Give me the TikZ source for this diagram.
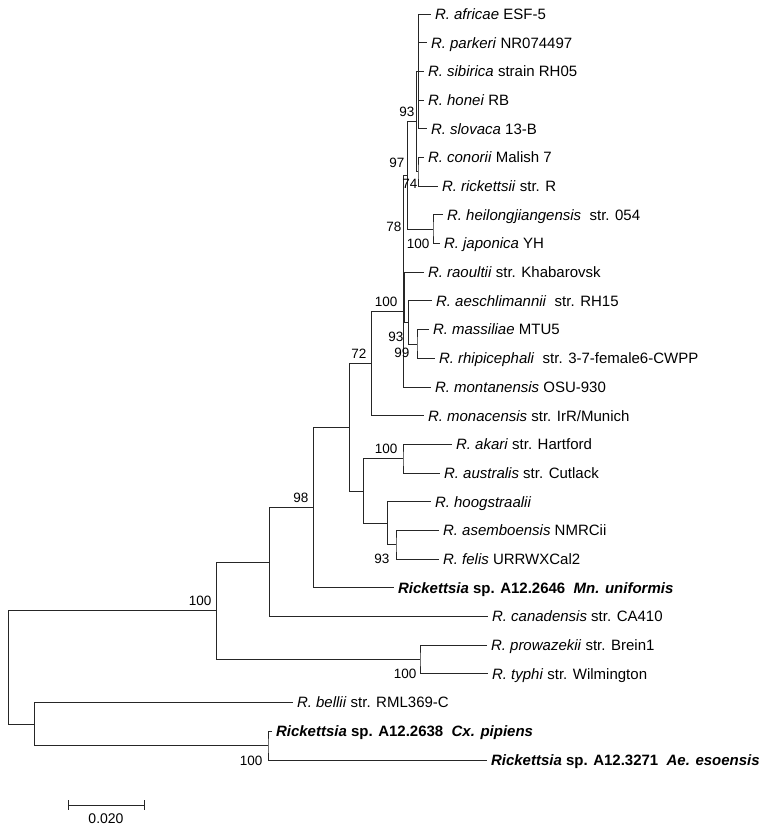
\documentclass[tikz,border=0pt]{standalone}
\usepackage{fontspec}
\setmainfont{Liberation Sans}
\begin{document}
\begin{tikzpicture}[x=1pt, y=-1pt, line width=1pt,
    branch/.style={draw=black!85},
    leaf/.style={anchor=west, inner xsep=3.5pt, inner ysep=0pt, text height=10.7pt, text depth=0pt, font=\fontsize{15}{18}\selectfont},
    boot/.style={anchor=east, inner sep=0pt, text height=9.6pt, text depth=0pt, font=\fontsize{13.5}{16}\selectfont},
    bsa/.style={boot, xshift=-4pt, yshift=10pt},
    bsb/.style={boot, xshift=-4pt, yshift=-14pt}]
    \useasboundingbox (0,0) rectangle (764,830);
    % leaves, one row every 28.69 px
    \node[leaf] (africae)  at (431,14.0)  {\textit{R. africae} ESF-5};
    \node[leaf] (parkeri)  at (427,42.7)  {\textit{R. parkeri} NR074497};
    \node[leaf] (sibirica) at (424,71.4)  {\textit{R. sibirica} strain RH05};
    \node[leaf] (honei)    at (424,100.1) {\textit{R. honei} RB};
    \node[leaf] (slovaca)  at (427,128.8) {\textit{R. slovaca} 13-B};
    \node[leaf] (conorii)  at (424,157.5) {\textit{R. conorii} Malish 7};
    \node[leaf] (rickettsii) at (438,186.1) {\textit{R. rickettsii} str. R};
    \node[leaf] (heilong)  at (443,214.8) {\textit{R. heilongjiangensis}\ \ str. 054};
    \node[leaf] (japonica) at (440,243.5) {\textit{R. japonica} YH};
    \node[leaf] (raoultii) at (424,272.2) {\textit{R. raoultii} str. Khabarovsk};
    \node[leaf] (aeschl)   at (432,300.9) {\textit{R. aeschlimannii}\ \ str. RH15};
    \node[leaf] (massiliae) at (429,329.6) {\textit{R. massiliae} MTU5};
    \node[leaf] (rhipi)    at (435,358.3) {\textit{R. rhipicephali}\ \ str. 3-7-female6-CWPP};
    \node[leaf] (montan)   at (431,387.0) {\textit{R. montanensis} OSU-930};
    \node[leaf] (monac)    at (424,415.7) {\textit{R. monacensis} str. IrR/Munich};
    \node[leaf] (akari)    at (452,444.4) {\textit{R. akari} str. Hartford};
    \node[leaf] (austral)  at (440,473.1) {\textit{R. australis} str. Cutlack};
    \node[leaf] (hoog)     at (431,501.8) {\textit{R. hoogstraalii}};
    \node[leaf] (asemb)    at (439,530.4) {\textit{R. asemboensis} NMRCii};
    \node[leaf] (felis)    at (439,559.1) {\textit{R. felis} URRWXCal2};
    \node[leaf] (mnunif)   at (394,587.8) {\textbf{\textit{Rickettsia} sp. A12.2646\ \ \textit{Mn. uniformis}}};
    \node[leaf] (canad)    at (488,616.5) {\textit{R. canadensis} str. CA410};
    \node[leaf] (prowaz)   at (487,645.2) {\textit{R. prowazekii} str. Brein1};
    \node[leaf] (typhi)    at (488,673.9) {\textit{R. typhi} str. Wilmington};
    \node[leaf] (bellii)   at (293,702.6) {\textit{R. bellii} str. RML369-C};
    \node[leaf] (cxpip)    at (272,731.3) {\textbf{\textit{Rickettsia} sp. A12.2638\ \ \textit{Cx. pipiens}}};
    \node[leaf] (aeeso)    at (487,760.0) {\textbf{\textit{Rickettsia} sp. A12.3271\ \ \textit{Ae. esoensis}}};
    % inner nodes
    \coordinate (g1)    at (418,71.4);
    \coordinate (n74)   at (418,171.8);
    \coordinate (n93)   at (416,121.6);
    \coordinate (nj)    at (433,229.2);
    \coordinate (n97)   at (407,175.4);
    \coordinate (n99)   at (417,344.0);
    \coordinate (s2)    at (408,322.4);
    \coordinate (s1)    at (404,297.3);
    \coordinate (n78)   at (403,236.4);
    \coordinate (n100a) at (403,311.7);
    \coordinate (n72)   at (371,363.7);
    \coordinate (nak)   at (403,458.8);
    \coordinate (nf)    at (396,544.8);
    \coordinate (nh)    at (387,523.3);
    \coordinate (nakg)  at (363,491.0);
    \coordinate (n349)  at (349,427.4);
    \coordinate (n98)   at (313,507.6);
    \coordinate (n269)  at (269,562.0);
    \coordinate (npt)   at (420,659.6);
    \coordinate (n216)  at (216,610.8);
    \coordinate (n268)  at (268,745.7);
    \coordinate (n34)   at (34,724.1);
    \coordinate (root)  at (8,667.5);
    % branches to leaves
    \foreach \c in {africae,parkeri,sibirica,honei,slovaca}
        \draw[branch] (g1) |- (\c.west);
    \foreach \p/\a/\b in {n74/conorii/rickettsii, nj/heilong/japonica, n99/massiliae/rhipi,
            nak/akari/austral, nf/asemb/felis, npt/prowaz/typhi, n268/cxpip/aeeso}
        \draw[branch] (\a.west) -| (\p) |- (\b.west);
    \draw[branch] (n93) |- (g1);   \draw[branch] (n93) |- (n74);
    \draw[branch] (n97) |- (n93);  \draw[branch] (n97) |- (nj);
    \draw[branch] (s2) |- (aeschl.west); \draw[branch] (s2) |- (n99);
    \draw[branch] (s1) |- (raoultii.west); \draw[branch] (s1) |- (s2);
    \draw[branch] (n78) |- (n97);  \draw[branch] (n78) |- (s1);
    \draw[branch] (n100a) |- (n78); \draw[branch] (n100a) |- (montan.west);
    \draw[branch] (n72) |- (n100a); \draw[branch] (n72) |- (monac.west);
    \draw[branch] (nh) |- (hoog.west); \draw[branch] (nh) |- (nf);
    \draw[branch] (nakg) |- (nak); \draw[branch] (nakg) |- (nh);
    \draw[branch] (n349) |- (n72); \draw[branch] (n349) |- (nakg);
    \draw[branch] (n98) |- (n349); \draw[branch] (n98) |- (mnunif.west);
    \draw[branch] (n269) |- (n98); \draw[branch] (n269) |- (canad.west);
    \draw[branch] (n216) |- (n269); \draw[branch] (n216) |- (npt);
    \draw[branch] (n34) |- (bellii.west); \draw[branch] (n34) |- (n268);
    \draw[branch] (root) |- (n216); \draw[branch] (root) |- (n34);
    % bootstrap values
    \node[bsa, xshift=3pt] (b93a) at (n93) {93};
    \node[bsa, xshift=2pt, yshift=3pt] (b97) at (n97) {97};
    \node[bsb, xshift=4pt, yshift=2pt] (b74) at (n74) {74};
    \node[bsb, xshift=1pt] (b100j) at (nj) {100};
    \node[bsa, xshift=3pt] (b78) at (n78) {78};
    \node[bsa, xshift=-1pt] (b100a) at (n100a) {100};
    \node[bsb] (b93b) at (s2) {93};
    \node[bsb, xshift=-3pt, yshift=5pt] (b99) at (n99) {99};
    \node[bsa] (b72) at (n72) {72};
    \node[bsa, xshift=-1pt] (b100k) at (nak) {100};
    \node[bsa] (b98) at (n98) {98};
    \node[bsb, xshift=-2pt] (b93c) at (nf) {93};
    \node[bsa] (b100r) at (n216) {100};
    \node[bsb, xshift=1pt] (b100p) at (npt) {100};
    \node[bsb, xshift=-1pt, yshift=-1pt] (b100c) at (n268) {100};
    % scale bar
    \coordinate (sbl) at (68,805);
    \coordinate (sbr) at (144,805);
    \draw[branch] (sbl) -- (sbr);
    \draw[branch] ([yshift=5pt]sbl) -- ([yshift=-5pt]sbl);
    \draw[branch] ([yshift=5pt]sbr) -- ([yshift=-5pt]sbr);
    \node[boot, anchor=center, font=\fontsize{14}{16}\selectfont] (sblabel) at (106,819) {0.020};
\end{tikzpicture}
\end{document}
